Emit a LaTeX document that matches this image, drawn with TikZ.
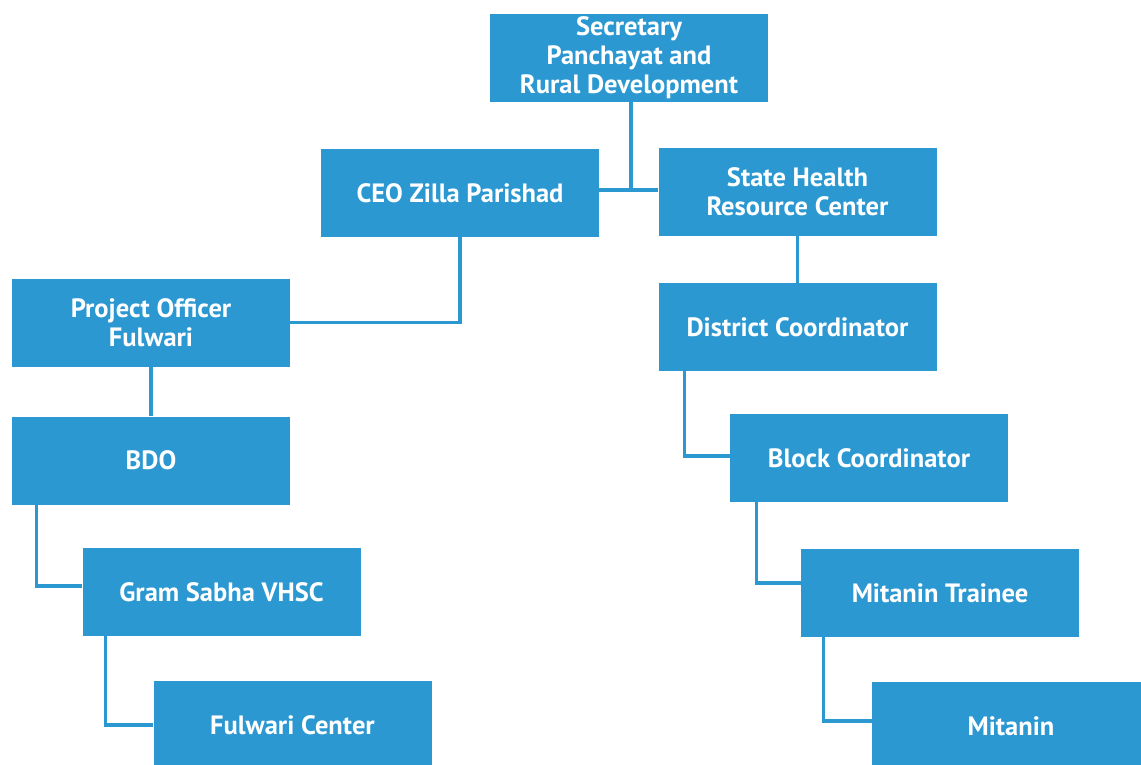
\documentclass[tikz,border=0pt]{standalone}
\usepackage{fontspec}
\setmainfont{PT Sans}
\definecolor{orgblue}{RGB}{44,152,210}
\begin{document}
\begin{tikzpicture}[x=1pt,y=-1pt,
  unit/.style={rectangle, fill=orgblue, text=white, inner sep=0pt,
    minimum width=278pt, minimum height=88pt, align=center,
    font=\fontsize{26.5}{29}\selectfont\bfseries},
  link/.style={draw=orgblue, line width=3.2pt}]
\useasboundingbox (0,0) rectangle (1141,764);
\clip (0,0) rectangle (1141,764);

% top level
\node[unit] (sec)  at (629,58)    {Secretary\\Panchayat and\\Rural Development};
\node[unit] (ceo)  at (460,193)   {CEO Zilla Parishad};
\node[unit] (shrc) at (797.5,192) {State Health\\Resource Center};

% Fulwari branch
\node[unit] (po)   at (151,322.5) {Project Officer\\Fulwari};
\node[unit] (bdo)  at (151,460.5) {BDO};
\node[unit] (gs)   at (221.5,592) {Gram Sabha VHSC};
\node[unit] (fc)   at (292.5,725) {Fulwari Center};

% Mitanin branch
\node[unit] (dc)   at (797.5,327) {District Coordinator};
\node[unit] (bc)   at (869,458)   {Block Coordinator};
\node[unit] (mt)   at (940,593)   {Mitanin Trainee};
\node[unit] (mit)  at (1011,726)  {Mitanin};

% connectors
\coordinate (jn) at (631,190);
\draw[link] ([xshift=2pt]sec.south) -- (jn);
\draw[link] (ceo.east |- jn) -- (shrc.west |- jn);
\draw[link] (ceo.south) |- (po.east);
\draw[link] (shrc.south) -- (dc.north);
\draw[link] (po.south) -- (bdo.north);
\draw[link] ([xshift=25pt]bdo.south west) |- ([yshift=6pt]gs.west);
\draw[link] ([xshift=23pt]gs.south west) |- (fc.west);
\draw[link] ([xshift=26pt]dc.south west) |- ([yshift=2pt]bc.west);
\draw[link] ([xshift=27pt]bc.south west) |- ([yshift=10pt]mt.west);
\draw[link] ([xshift=23pt]mt.south west) |- ([yshift=5pt]mit.west);
\end{tikzpicture}
\end{document}
